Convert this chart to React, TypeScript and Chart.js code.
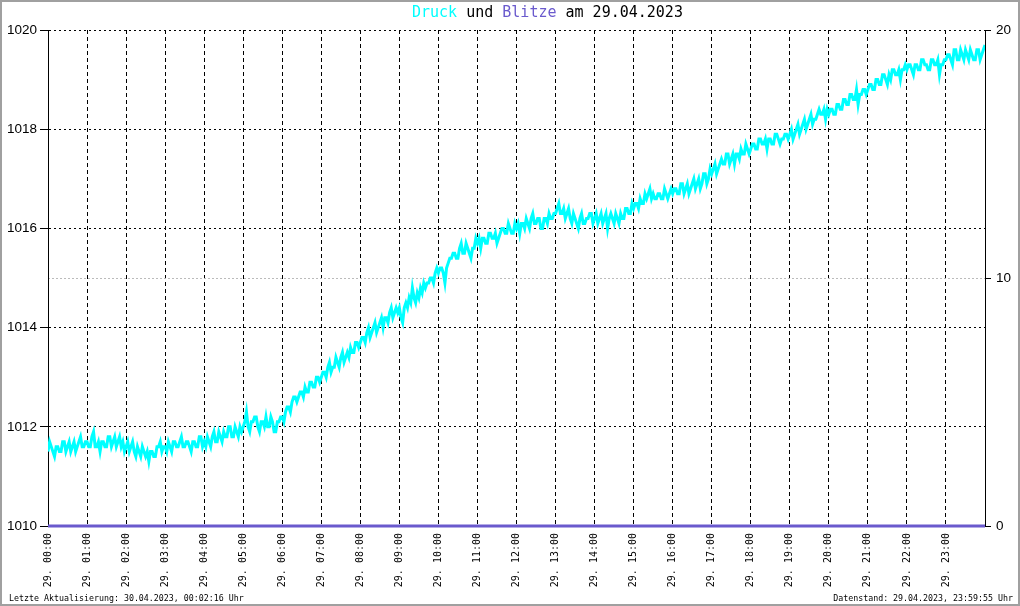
import { useEffect, useRef } from "react";
import { Chart, registerables } from "chart.js";

Chart.register(...registerables);

const titleParts = [
  { text: "Druck", color: "#00ffff" },
  { text: " und ", color: "#000000" },
  { text: "Blitze", color: "#6a5acd" },
  { text: " am 29.04.2023", color: "#000000" },
];
const footerLeft = "Letzte Aktualisierung: 30.04.2023, 00:02:16 Uhr";
const footerRight = "Datenstand: 29.04.2023, 23:59:55 Uhr";

const hourLabels = [
  "29. 00:00", "29. 01:00", "29. 02:00", "29. 03:00", "29. 04:00", "29. 05:00",
  "29. 06:00", "29. 07:00", "29. 08:00", "29. 09:00", "29. 10:00", "29. 11:00",
  "29. 12:00", "29. 13:00", "29. 14:00", "29. 15:00", "29. 16:00", "29. 17:00",
  "29. 18:00", "29. 19:00", "29. 20:00", "29. 21:00", "29. 22:00", "29. 23:00",
];
const pressureTicks = [1010, 1012, 1014, 1016, 1018, 1020];
const blitzTicks = [0, 10, 20];

const sampleStepMinutes = 2.5;
// Luftdruck (hPa), one value every 2.5 minutes, 00:00 .. 24:00 (one row per hour)
const pressure = [
  1011.5, 1011.7, 1011.6, 1011.5, 1011.4, 1011.6, 1011.6, 1011.5, 1011.5, 1011.7, 1011.7, 1011.5, 1011.6, 1011.7, 1011.5, 1011.6, 1011.7, 1011.5, 1011.6, 1011.7, 1011.8, 1011.6, 1011.6, 1011.7,
  1011.7, 1011.6, 1011.6, 1011.8, 1011.9, 1011.6, 1011.6, 1011.7, 1011.5, 1011.7, 1011.7, 1011.6, 1011.6, 1011.8, 1011.8, 1011.6, 1011.7, 1011.8, 1011.6, 1011.7, 1011.8, 1011.6, 1011.7, 1011.5,
  1011.6, 1011.7, 1011.5, 1011.6, 1011.7, 1011.5, 1011.4, 1011.6, 1011.5, 1011.4, 1011.6, 1011.5, 1011.4, 1011.5, 1011.3, 1011.5, 1011.5, 1011.4, 1011.4, 1011.6, 1011.6, 1011.7, 1011.5, 1011.6,
  1011.6, 1011.5, 1011.7, 1011.6, 1011.5, 1011.7, 1011.7, 1011.6, 1011.6, 1011.7, 1011.8, 1011.6, 1011.6, 1011.7, 1011.7, 1011.6, 1011.5, 1011.7, 1011.7, 1011.6, 1011.6, 1011.8, 1011.8, 1011.6,
  1011.7, 1011.6, 1011.8, 1011.7, 1011.6, 1011.8, 1011.9, 1011.7, 1011.7, 1011.9, 1011.8, 1011.7, 1011.9, 1011.8, 1011.8, 1012.0, 1012.0, 1011.8, 1011.8, 1012.0, 1011.9, 1011.8, 1012.0, 1011.9,
  1012.0, 1012.1, 1012.3, 1012.0, 1011.9, 1012.1, 1012.1, 1012.2, 1012.2, 1012.0, 1011.9, 1012.1, 1012.1, 1012.0, 1012.2, 1012.0, 1012.0, 1012.2, 1012.1, 1011.9, 1011.9, 1012.1, 1012.1, 1012.2,
  1012.2, 1012.1, 1012.3, 1012.4, 1012.4, 1012.3, 1012.5, 1012.6, 1012.6, 1012.5, 1012.6, 1012.7, 1012.7, 1012.6, 1012.8, 1012.7, 1012.7, 1012.9, 1012.9, 1012.8, 1012.8, 1013.0, 1013.0, 1012.9,
  1013.0, 1013.1, 1013.1, 1013.0, 1013.2, 1013.3, 1013.1, 1013.2, 1013.2, 1013.4, 1013.3, 1013.2, 1013.4, 1013.5, 1013.3, 1013.4, 1013.5, 1013.4, 1013.6, 1013.5, 1013.5, 1013.7, 1013.7, 1013.6,
  1013.7, 1013.8, 1013.8, 1013.7, 1013.9, 1014.0, 1013.8, 1013.9, 1014.0, 1014.1, 1013.9, 1014.0, 1014.1, 1014.2, 1014.0, 1014.2, 1014.2, 1014.1, 1014.3, 1014.4, 1014.2, 1014.3, 1014.4, 1014.3,
  1014.4, 1014.2, 1014.1, 1014.4, 1014.5, 1014.4, 1014.6, 1014.5, 1014.8, 1014.6, 1014.5, 1014.7, 1014.6, 1014.8, 1014.7, 1014.9, 1014.8, 1014.9, 1014.9, 1015.0, 1015.0, 1014.9, 1015.1, 1015.2,
  1015.1, 1015.2, 1015.2, 1015.1, 1014.9, 1015.2, 1015.3, 1015.4, 1015.4, 1015.5, 1015.5, 1015.4, 1015.4, 1015.6, 1015.7, 1015.5, 1015.5, 1015.7, 1015.6, 1015.5, 1015.4, 1015.6, 1015.6, 1015.8,
  1015.7, 1015.8, 1015.6, 1015.8, 1015.8, 1015.7, 1015.7, 1015.9, 1015.9, 1015.8, 1015.8, 1015.9, 1015.7, 1015.8, 1015.9, 1016.0, 1016.0, 1015.9, 1015.9, 1016.1, 1016.0, 1015.9, 1015.9, 1016.1,
  1016.0, 1016.1, 1015.9, 1016.1, 1016.1, 1016.0, 1016.2, 1016.1, 1016.0, 1016.2, 1016.3, 1016.1, 1016.1, 1016.2, 1016.2, 1016.0, 1016.0, 1016.2, 1016.2, 1016.1, 1016.3, 1016.2, 1016.2, 1016.3,
  1016.3, 1016.4, 1016.5, 1016.3, 1016.3, 1016.4, 1016.2, 1016.3, 1016.4, 1016.2, 1016.1, 1016.3, 1016.2, 1016.1, 1016.0, 1016.2, 1016.3, 1016.1, 1016.1, 1016.2, 1016.2, 1016.3, 1016.3, 1016.1,
  1016.2, 1016.3, 1016.1, 1016.2, 1016.3, 1016.1, 1016.2, 1016.3, 1016.0, 1016.2, 1016.3, 1016.2, 1016.1, 1016.3, 1016.2, 1016.1, 1016.3, 1016.2, 1016.2, 1016.4, 1016.4, 1016.3, 1016.3, 1016.5,
  1016.4, 1016.5, 1016.5, 1016.4, 1016.6, 1016.5, 1016.5, 1016.7, 1016.6, 1016.7, 1016.8, 1016.6, 1016.7, 1016.6, 1016.6, 1016.7, 1016.7, 1016.6, 1016.6, 1016.8, 1016.7, 1016.6, 1016.7, 1016.8,
  1016.7, 1016.8, 1016.8, 1016.7, 1016.7, 1016.9, 1016.9, 1016.7, 1016.8, 1016.9, 1016.7, 1016.8, 1016.9, 1017.0, 1016.8, 1016.9, 1017.0, 1016.8, 1016.9, 1017.1, 1017.1, 1016.9, 1017.0, 1017.2,
  1017.1, 1017.2, 1017.3, 1017.1, 1017.2, 1017.3, 1017.4, 1017.3, 1017.3, 1017.5, 1017.5, 1017.3, 1017.4, 1017.5, 1017.3, 1017.5, 1017.5, 1017.4, 1017.6, 1017.5, 1017.5, 1017.7, 1017.6, 1017.5,
  1017.6, 1017.7, 1017.7, 1017.6, 1017.6, 1017.8, 1017.8, 1017.7, 1017.7, 1017.8, 1017.6, 1017.8, 1017.8, 1017.7, 1017.7, 1017.9, 1017.9, 1017.8, 1017.7, 1017.8, 1017.8, 1017.9, 1017.9, 1017.8,
  1017.9, 1018.0, 1017.8, 1017.9, 1018.0, 1018.1, 1017.9, 1018.0, 1018.1, 1018.2, 1018.0, 1018.1, 1018.2, 1018.3, 1018.1, 1018.2, 1018.2, 1018.3, 1018.4, 1018.3, 1018.3, 1018.4, 1018.2, 1018.4,
  1018.3, 1018.4, 1018.4, 1018.3, 1018.3, 1018.5, 1018.5, 1018.4, 1018.4, 1018.6, 1018.6, 1018.5, 1018.5, 1018.7, 1018.7, 1018.6, 1018.6, 1018.8, 1018.5, 1018.7, 1018.7, 1018.8, 1018.8, 1018.7,
  1018.8, 1018.9, 1018.9, 1018.8, 1018.8, 1019.0, 1019.0, 1018.9, 1018.9, 1019.1, 1019.1, 1019.0, 1018.9, 1019.1, 1019.0, 1019.2, 1019.2, 1019.1, 1019.1, 1019.2, 1019.0, 1019.2, 1019.2, 1019.3,
  1019.2, 1019.3, 1019.3, 1019.2, 1019.1, 1019.3, 1019.3, 1019.2, 1019.2, 1019.4, 1019.4, 1019.3, 1019.3, 1019.2, 1019.2, 1019.4, 1019.4, 1019.3, 1019.3, 1019.4, 1019.1, 1019.3, 1019.3, 1019.4,
  1019.4, 1019.5, 1019.5, 1019.4, 1019.3, 1019.6, 1019.6, 1019.4, 1019.4, 1019.6, 1019.5, 1019.4, 1019.6, 1019.5, 1019.4, 1019.6, 1019.5, 1019.4, 1019.4, 1019.6, 1019.6, 1019.4, 1019.5, 1019.6,
  1019.7,
];
// Blitze (count), hourly
const blitze = [0, 0, 0, 0, 0, 0, 0, 0, 0, 0, 0, 0, 0, 0, 0, 0, 0, 0, 0, 0, 0, 0, 0, 0, 0];

const MONO = "'DejaVu Sans Mono', monospace";
const SANS = "'Liberation Sans', Arial, sans-serif";

const decorPlugin = {
  id: "decor",
  afterDraw(chart: any) {
    const ctx = chart.ctx;
    ctx.save();
    // title
    ctx.font = `15px ${MONO}`;
    ctx.textBaseline = "middle";
    ctx.textAlign = "left";
    let x = 412;
    for (const p of titleParts) {
      ctx.fillStyle = p.color;
      ctx.fillText(p.text, x, 13);
      x += ctx.measureText(p.text).width;
    }
    // footers
    ctx.font = `8.3px ${MONO}`;
    ctx.fillStyle = "#000";
    ctx.textAlign = "left";
    ctx.fillText(footerLeft, 9, 599);
    ctx.textAlign = "right";
    ctx.fillText(footerRight, 1013, 599);
    // frame
    ctx.strokeStyle = "#a0a0a0";
    ctx.lineWidth = 2;
    ctx.strokeRect(1, 1, 1018, 604);
    ctx.restore();
  },
};

export default function App() {
  const ref = useRef<HTMLCanvasElement | null>(null);

  useEffect(() => {
    if (!ref.current) return;
    const chart = new Chart(ref.current, {
      type: "line",
      data: {
        datasets: [
          {
            label: "Druck",
            data: pressure.map((v, i) => ({ x: i * sampleStepMinutes, y: v })),
            yAxisID: "y",
            borderColor: "#00ffff",
            borderWidth: 3,
            pointRadius: 0,
            tension: 0,
          },
          {
            label: "Blitze",
            data: blitze.map((v, i) => ({ x: i * 60, y: v })),
            yAxisID: "y1",
            borderColor: "#6a5acd",
            borderWidth: 3,
            pointRadius: 0,
            clip: false,
          },
        ],
      },
      options: {
        animation: false,
        responsive: true,
        maintainAspectRatio: false,
        layout: { padding: { top: 30, left: 0, right: 0, bottom: 0 } },
        plugins: {
          legend: { display: false },
          tooltip: { enabled: false },
          title: { display: false },
        },
        scales: {
          x: {
            type: "linear",
            min: 0,
            max: 1440,
            afterBuildTicks: (s: any) => {
              s.ticks = hourLabels.map((_, i) => ({ value: i * 60 }));
            },
            afterFit: (s: any) => {
              s.height = 80;
            },
            ticks: {
              autoSkip: false,
              minRotation: 90,
              maxRotation: 90,
              padding: 7,
              color: "#000",
              font: { family: MONO, size: 10 },
              callback: (_v: any, i: number) => hourLabels[i],
            },
            grid: { color: "#000", lineWidth: 1, drawTicks: false },
            border: { display: true, color: "#000", width: 1, dash: [4, 3] },
          },
          y: {
            position: "left",
            min: 1010,
            max: 1020,
            afterBuildTicks: (s: any) => {
              s.ticks = pressureTicks.map((v) => ({ value: v }));
            },
            afterFit: (s: any) => {
              s.width = 48;
            },
            ticks: {
              padding: 3,
              color: "#000",
              font: { family: SANS, size: 13.5 },
              callback: (v: any) => String(v),
            },
            grid: { color: "#000", lineWidth: 1, tickColor: "#000", tickLength: 8, drawTicks: true },
            border: { display: true, color: "#000", width: 1, dash: [2, 3] },
          },
          y1: {
            position: "right",
            min: 0,
            max: 20,
            afterBuildTicks: (s: any) => {
              s.ticks = blitzTicks.map((v) => ({ value: v }));
            },
            afterFit: (s: any) => {
              s.width = 35;
            },
            ticks: {
              padding: 5,
              color: "#000",
              font: { family: SANS, size: 13.5 },
              callback: (v: any) => String(v),
            },
            grid: {
              color: (c: any) => (c.tick && c.tick.value === 10 ? "#bbbbbb" : "rgba(0,0,0,0)"),
              lineWidth: 1,
              tickColor: "#000",
              tickLength: 6,
              drawTicks: true,
            },
            border: { display: true, color: "#000", width: 1, dash: [2, 2] },
          },
        },
      } as any,
      plugins: [decorPlugin],
    });
    return () => chart.destroy();
  }, []);

  return (
    <div style={{ position: "fixed", left: 0, top: 0, width: 1020, height: 606, background: "#fff" }}>
      <canvas ref={ref} />
    </div>
  );
}
